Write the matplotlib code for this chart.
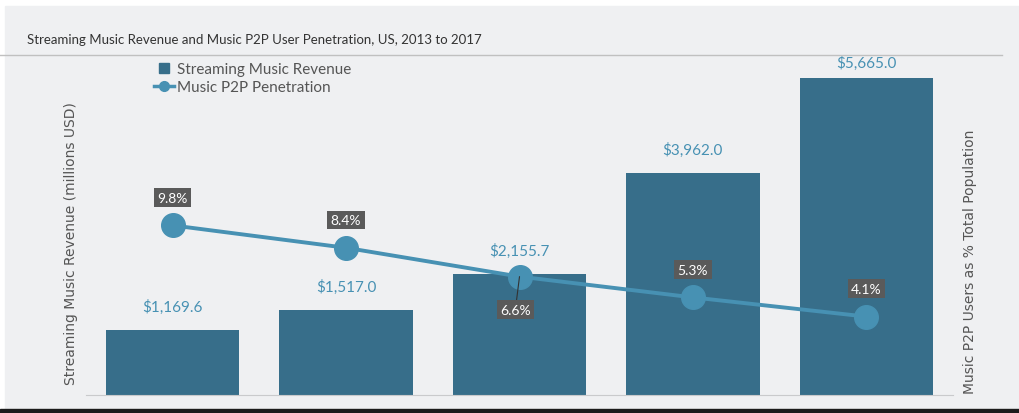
import numpy as np
import matplotlib
matplotlib.use('Agg')
from matplotlib import pyplot as plt
from matplotlib.lines import Line2D
from matplotlib.patches import Rectangle

plt.rcParams['font.family'] = ['Lato', 'DejaVu Sans']

years = ['2013', '2014', '2015', '2016', '2017']
revenue = [1169.6, 1517.0, 2155.7, 3962.0, 5665.0]
p2p_pct = [9.8, 8.4, 6.6, 5.3, 4.1]

bar_col = '#376e8a'
line_col = '#4791b3'
bg = '#eff0f2'

fig = plt.figure(figsize=(10.2, 4.14), dpi=100)
fig.patch.set_facecolor('white')
# gray panel + dark strip at bottom
fig.add_artist(Rectangle((5 / 1020, 4 / 414), 1 - 5 / 1020, 1 - 11 / 414,
                         transform=fig.transFigure, color=bg, zorder=-10))
fig.add_artist(Rectangle((0, 0), 1, 4 / 414, transform=fig.transFigure,
                         color='#1b1b1b', zorder=-9))

ax = fig.add_axes([86 / 1020, 18 / 414, 867 / 1020, 336 / 414])
ax.set_facecolor('none')
x = np.arange(len(years))
bars = ax.bar(x, revenue, width=0.77, color=bar_col, zorder=2)
ax.set_xlim(-0.5, 4.5)
ax.set_ylim(0, 6000)
for s in ['top', 'left', 'right']:
    ax.spines[s].set_visible(False)
ax.spines['bottom'].set_color('#c9cacc')
ax.set_xticks([])
ax.set_yticks([])
ax.set_ylabel('Streaming Music Revenue (millions USD)', family='DejaVu Sans',
              fontsize=10, color='#555555')
ax.yaxis.set_label_coords(-0.009, 0.455)

for xi, v in zip(x, revenue):
    ax.annotate('${:,.1f}'.format(v), (xi, v), xytext=(0, 17 if v < 5000 else 11),
                textcoords='offset points', ha='center', va='center',
                fontsize=11, color=line_col)

ax2 = ax.twinx()
ax2.plot(x, p2p_pct, color=line_col, lw=2.8, marker='o', markersize=17, zorder=3)
ax2.set_ylim(-0.8, 20.2)
for s in ['top', 'left', 'right', 'bottom']:
    ax2.spines[s].set_visible(False)
ax2.set_yticks([])
ax2.set_ylabel('Music P2P Users as % Total Population', family='DejaVu Sans',
               fontsize=10, color='#555555')
ax2.yaxis.set_label_coords(1.011, 0.40)

box = dict(boxstyle='square,pad=0.25', fc='#5a5a5a', ec='none')
for i, (xi, v) in enumerate(zip(x, p2p_pct)):
    if i == 2:
        ax2.annotate('{:.1f}%'.format(v), (xi, v), xytext=(-3, -24),
                     textcoords='offset points', ha='center', va='center',
                     fontsize=10, color='white', bbox=box,
                     arrowprops=dict(arrowstyle='-', color='#333333', lw=0.8,
                                     shrinkA=0, shrinkB=0))
    else:
        ax2.annotate('{:.1f}%'.format(v), (xi, v), xytext=(0, 20),
                     textcoords='offset points', ha='center', va='center',
                     fontsize=10, color='white', bbox=box)

# title and separator
fig.text(27 / 1020, 1 - 40 / 414,
         'Streaming Music Revenue and Music P2P User Penetration, US, 2013 to 2017',
         fontsize=9.5, color='#333333', va='center', ha='left')
fig.add_artist(Line2D([0, 1002 / 1020], [1 - 56 / 414, 1 - 56 / 414],
                      transform=fig.transFigure, color='#c0c0c0', lw=1))

handles = [Line2D([], [], color=bar_col, marker='s', ls='none', markersize=6.5),
           Line2D([], [], color=line_col, marker='o', lw=2.5, markersize=7)]
fig.legend(handles, ['Streaming Music Revenue', 'Music P2P Penetration'],
           loc='upper left', bbox_to_anchor=(148 / 1020, 1 - 57 / 414),
           frameon=False, fontsize=11, labelcolor='#555555', handlelength=1.3,
           handletextpad=0.2, labelspacing=0.25, borderaxespad=0)

plt.savefig('out.png', dpi=100, facecolor=fig.get_facecolor())
